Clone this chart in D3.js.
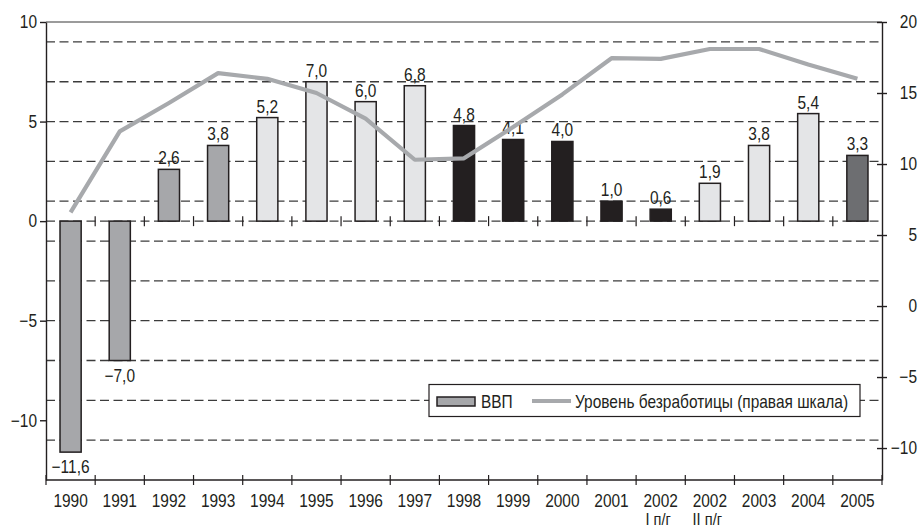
<!DOCTYPE html>
<html>
<head>
<meta charset="utf-8">
<script src="https://cdn.jsdelivr.net/npm/d3@7"></script>
<style>
  html, body { margin: 0; padding: 0; background: #fff; }
  svg { display: block; }
  text { font-family: "Liberation Sans", Arial, sans-serif; fill: #231f20; }
</style>
</head>
<body>
<svg id="chart"></svg>
<script>
// categories (years; 2002 split into halves)
const categories = ["1990", "1991", "1992", "1993", "1994", "1995", "1996", "1997", "1998",
  "1999", "2000", "2001", "2002 I п/г", "2002 II п/г", "2003", "2004", "2005"];
// GDP growth, % (left scale)
const gdp = [-11.6, -7.0, 2.6, 3.8, 5.2, 7.0, 6.0, 6.8, 4.8, 4.1, 4.0, 1.0, 0.6, 1.9, 3.8, 5.4, 3.3];
// period group of each bar (decides the fill)
const periods = ["p1", "p1", "p1", "p1", "p2", "p2", "p2", "p2", "p3", "p3", "p3", "p3", "p3",
  "p2", "p2", "p2", "p4"];
// unemployment rate, % (right scale)
const unemployment = [6.6, 12.3, 14.3, 16.4, 16.0, 15.0, 13.2, 10.3, 10.4, 12.6, 14.9, 17.45,
  17.4, 18.1, 18.1, 17.0, 16.0];
const leftTicks = [-10, -5, 0, 5, 10];
const rightTicks = [-10, -5, 0, 5, 10, 15, 20];
const gridValues = [9, 7, 5, 3, 1, 0, -1, -3, -5, -7, -9, -11];
const legendLabels = ["ВВП", "Уровень безработицы (правая шкала)"];

const width = 918, height = 528;
const margin = { top: 22, right: 36, bottom: 48, left: 46 };
const squeeze = 0.86; // condensed look of the original type

const svg = d3.select("#chart").attr("width", width).attr("height", height);

const x = d3.scaleBand().domain(categories).range([margin.left, width - margin.right]).padding(0);
const yL = d3.scaleLinear().domain([-13, 10]).range([height - margin.bottom, margin.top]);
const yR = d3.scaleLinear().domain([-12.25, 20]).range([height - margin.bottom, margin.top]);
const fill = d3.scaleOrdinal().domain(["p1", "p2", "p3", "p4"])
  .range(["#a6a7aa", "#e4e5e7", "#231f20", "#6d6e71"]);

const x0 = margin.left, x1 = width - margin.right;
const fmt = v => d3.format(".1f")(v).replace(".", ",").replace("-", "−");

// top border
svg.append("line")
  .attr("x1", x0).attr("x2", x1).attr("y1", yL(10)).attr("y2", yL(10))
  .attr("stroke", "#7a7a7a").attr("stroke-width", 1.4);

// dashed grid
svg.append("g").selectAll("line")
  .data(gridValues)
  .join("line")
  .attr("x1", x0).attr("x2", x1)
  .attr("y1", d => yL(d)).attr("y2", d => yL(d))
  .attr("stroke", "#3c3c3c").attr("stroke-width", 1.3)
  .attr("stroke-dasharray", "9,4.5");

// category ticks on zero line
const bounds = categories.slice(1).map(c => x(c));
svg.append("g").selectAll("line")
  .data(bounds)
  .join("line")
  .attr("x1", d => d).attr("x2", d => d)
  .attr("y1", yL(0) - 5).attr("y2", yL(0) + 5)
  .attr("stroke", "#231f20").attr("stroke-width", 1.2);

// bars
svg.append("g").selectAll("rect")
  .data(gdp)
  .join("rect")
  .attr("x", (d, i) => x(categories[i]) + x.bandwidth() * 0.285)
  .attr("width", x.bandwidth() * 0.43)
  .attr("y", d => yL(Math.max(0, d)))
  .attr("height", d => Math.abs(yL(d) - yL(0)))
  .attr("fill", (d, i) => fill(periods[i]))
  .attr("stroke", "#231f20").attr("stroke-width", 1.5);

// bar labels
svg.append("g").selectAll("text")
  .data(gdp)
  .join("text")
  .attr("x", (d, i) => x(categories[i]) + x.bandwidth() / 2)
  .attr("y", d => d >= 0 ? yL(d) - 5 : yL(d) + 21)
  .attr("text-anchor", "middle")
  .attr("font-size", 18)
  .text(d => fmt(d));

// unemployment line
const line = d3.line()
  .x((d, i) => x(categories[i]) + x.bandwidth() / 2)
  .y(d => yR(d));
svg.append("path")
  .datum(unemployment)
  .attr("d", line)
  .attr("fill", "none")
  .attr("stroke", "#a7a9ac").attr("stroke-width", 4.2)
  .attr("stroke-linejoin", "round");

// bottom axis
const xAxis = svg.append("g").attr("transform", `translate(0,${yL(-13)})`);
xAxis.append("line").attr("x1", x0).attr("x2", x1).attr("stroke", "#231f20").attr("stroke-width", 1.4);
xAxis.selectAll(".tk")
  .data([x0].concat(bounds, [x1]))
  .join("line")
  .attr("x1", d => d).attr("x2", d => d).attr("y1", -5).attr("y2", 5)
  .attr("stroke", "#231f20").attr("stroke-width", 1.2);
const xl = xAxis.selectAll(".lbl")
  .data(categories)
  .join("text")
  .attr("text-anchor", "middle")
  .attr("font-size", 18)
  .attr("x", d => x(d) + x.bandwidth() / 2);
xl.append("tspan").attr("x", d => x(d) + x.bandwidth() / 2).attr("y", 27).text(d => d.split(" ")[0]);
xl.filter(d => d.includes(" ")).append("tspan")
  .attr("x", d => x(d) + x.bandwidth() / 2 - 3).attr("y", 45)
  .attr("font-size", 17)
  .text(d => d.split(" ").slice(1).join(" "));

// left axis
const yAxisL = svg.append("g")
  .attr("transform", `translate(${x0},0)`)
  .call(d3.axisLeft(yL).tickValues(leftTicks).tickSize(6).tickSizeOuter(0).tickPadding(3)
    .tickFormat(d => String(d).replace("-", "−")));
yAxisL.attr("font-family", null);
yAxisL.selectAll("path, line").attr("stroke", "#231f20").attr("stroke-width", 1.4);
yAxisL.selectAll("text").attr("x", -9).attr("font-size", 18).attr("fill", "#231f20");

// right axis
const yAxisR = svg.append("g")
  .attr("transform", `translate(${x1},0)`)
  .call(d3.axisRight(yR).tickValues(rightTicks).tickSizeOuter(0)
    .tickFormat(d => String(d).replace("-", "−")));
yAxisR.attr("font-family", null);
yAxisR.selectAll("path, line").attr("stroke", "#231f20").attr("stroke-width", 1.4);
yAxisR.selectAll(".tick line").attr("x1", -5).attr("x2", 5);
yAxisR.selectAll("text").attr("x", 35).attr("text-anchor", "end")
  .attr("font-size", 18).attr("fill", "#231f20");

// legend
const lg = svg.append("g");
lg.append("rect")
  .attr("x", 429).attr("y", 384.5).attr("width", 431).attr("height", 32)
  .attr("fill", "#fff").attr("stroke", "#231f20").attr("stroke-width", 1.2);
lg.append("rect")
  .attr("x", 437).attr("y", 397).attr("width", 38).attr("height", 9)
  .attr("fill", fill("p1")).attr("stroke", "#231f20").attr("stroke-width", 1.5);
lg.append("text").attr("x", 481).attr("y", 408).attr("font-size", 18).text(legendLabels[0]);
lg.append("line")
  .attr("x1", 532).attr("x2", 571).attr("y1", 401).attr("y2", 401)
  .attr("stroke", "#a7a9ac").attr("stroke-width", 4.2);
lg.append("text").attr("x", 575).attr("y", 408).attr("font-size", 18).text(legendLabels[1]);

// squeeze every text horizontally around its anchor x
svg.selectAll("text").each(function () {
  const t = d3.select(this);
  let px = +t.attr("x");
  if (isNaN(px) || t.attr("x") === null) {
    const first = t.select("tspan");
    px = first.empty() ? 0 : +first.attr("x");
  }
  t.attr("transform", `translate(${px * (1 - squeeze)},0) scale(${squeeze},1)`);
});
</script>
</body>
</html>
